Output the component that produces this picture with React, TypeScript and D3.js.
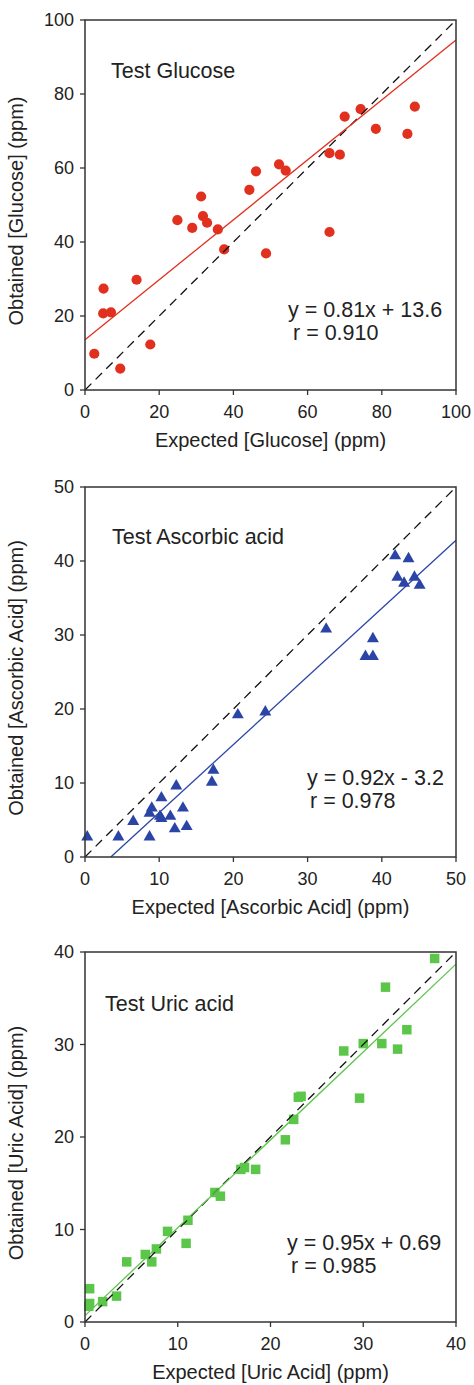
import React from "react";
import * as d3 from "d3";

// ---------- data ----------
const glucoseX = [70.0, 74.3, 88.9, 78.4, 86.9, 65.9, 68.7, 52.3, 54.1, 46.1, 44.3, 31.3, 24.9, 31.8, 32.9, 28.9, 35.8, 65.9, 37.5, 48.8, 13.9, 5.0, 4.9, 7.0, 17.6, 2.5, 9.5];
const glucoseY = [73.9, 75.9, 76.6, 70.6, 69.2, 64.0, 63.6, 61.0, 59.3, 59.1, 54.1, 52.3, 45.9, 47.0, 45.2, 43.8, 43.4, 42.7, 38.0, 36.9, 29.8, 27.4, 20.7, 21.0, 12.3, 9.8, 5.8];

const ascorbicX = [41.8, 43.6, 42.1, 43.0, 44.4, 45.1, 32.5, 38.8, 37.8, 38.8, 20.6, 24.3, 17.3, 17.1, 12.3, 10.3, 9.0, 13.2, 8.7, 10.1, 10.3, 11.5, 6.5, 12.1, 13.7, 0.3, 4.5, 8.7];
const ascorbicY = [40.7, 40.3, 37.8, 37.0, 37.8, 36.7, 30.8, 29.5, 27.1, 27.1, 19.2, 19.6, 11.7, 10.1, 9.6, 8.0, 6.6, 6.6, 5.9, 5.5, 5.2, 5.5, 4.8, 3.8, 4.1, 2.7, 2.7, 2.7];

const uricX = [37.7, 32.4, 34.7, 32.0, 30.0, 27.9, 33.7, 23.0, 23.3, 29.6, 22.5, 21.6, 16.8, 17.2, 18.4, 14.0, 14.6, 11.1, 8.9, 10.9, 7.7, 6.5, 7.2, 4.5, 0.5, 0.5, 0.4, 1.9, 3.4];
const uricY = [39.3, 36.2, 31.6, 30.1, 30.1, 29.3, 29.5, 24.3, 24.4, 24.2, 21.9, 19.7, 16.5, 16.7, 16.5, 14.0, 13.6, 11.0, 9.8, 8.5, 7.9, 7.3, 6.5, 6.5, 3.6, 2.0, 1.7, 2.2, 2.8];

const glucoseTicks = [0, 20, 40, 60, 80, 100];
const ascorbicTicks = [0, 10, 20, 30, 40, 50];
const uricTicks = [0, 10, 20, 30, 40];

const glucoseFit = { slope: 0.81, intercept: 13.6 };
const ascorbicFit = { slope: 0.92, intercept: -3.2 };
const uricFit = { slope: 0.95, intercept: 0.69 };

const panels = [
  {
    title: "Test Glucose",
    xLabel: "Expected [Glucose] (ppm)",
    yLabel: "Obtained [Glucose] (ppm)",
    eq: "y = 0.81x + 13.6",
    r: "r = 0.910",
    xs: glucoseX, ys: glucoseY, ticks: glucoseTicks, max: 100, fit: glucoseFit,
    color: "#e2301f", marker: "circle",
    top: 20, titlePos: [111, 78], eqPos: [288, 317], rPos: [293, 340],
  },
  {
    title: "Test Ascorbic acid",
    xLabel: "Expected [Ascorbic Acid] (ppm)",
    yLabel: "Obtained [Ascorbic Acid] (ppm)",
    eq: "y = 0.92x - 3.2",
    r: "r = 0.978",
    xs: ascorbicX, ys: ascorbicY, ticks: ascorbicTicks, max: 50, fit: ascorbicFit,
    color: "#2b45a6", marker: "triangle",
    top: 487, titlePos: [112, 544], eqPos: [307, 785], rPos: [310, 808],
  },
  {
    title: "Test Uric acid",
    xLabel: "Expected [Uric Acid] (ppm)",
    yLabel: "Obtained [Uric Acid] (ppm)",
    eq: "y = 0.95x + 0.69",
    r: "r = 0.985",
    xs: uricX, ys: uricY, ticks: uricTicks, max: 40, fit: uricFit,
    color: "#5cc64b", marker: "square",
    top: 952, titlePos: [105, 1011], eqPos: [287, 1250], rPos: [291, 1273],
  },
];

const FONT = "'Liberation Sans', Arial, Helvetica, sans-serif";
const LEFT = 85;
const RIGHT = 456;
const H = 370;

function Panel({ p }: { p: any }) {
  const x = d3.scaleLinear().domain([0, p.max]).range([LEFT, RIGHT]);
  const y = d3.scaleLinear().domain([0, p.max]).range([p.top + H, p.top]);
  const bottom = p.top + H;
  const line = d3.line<[number, number]>().x((d) => x(d[0])).y((d) => y(d[1]));
  const x0 = Math.max(0, -p.fit.intercept / p.fit.slope);
  const fitPts: [number, number][] = [
    [x0, p.fit.slope * x0 + p.fit.intercept],
    [p.max, p.fit.slope * p.max + p.fit.intercept],
  ];
  const idPts: [number, number][] = [[0, 0], [p.max, p.max]];
  const sym =
    p.marker === "circle"
      ? d3.symbol().type(d3.symbolCircle).size(82)()
      : p.marker === "triangle"
      ? d3.symbol().type(d3.symbolTriangle).size(62)()
      : d3.symbol().type(d3.symbolSquare).size(90)();
  const axisColor = "#333";
  return (
    <g>
      {/* points */}
      {p.xs.map((xv: number, i: number) => (
        <path key={i} d={sym as string} transform={`translate(${x(xv)},${y(p.ys[i])})`} fill={p.color} />
      ))}
      {/* identity dashed line */}
      <path d={line(idPts) as string} stroke="#111" strokeWidth={1.3} strokeDasharray="9,6" fill="none" />
      {/* fit line */}
      <path d={line(fitPts) as string} stroke={p.color} strokeWidth={1.3} fill="none" />
      {/* frame */}
      <rect x={LEFT} y={p.top} width={RIGHT - LEFT} height={H} fill="none" stroke={axisColor} strokeWidth={1.5} />
      {/* ticks */}
      {p.ticks.map((t: number) => (
        <g key={"x" + t}>
          <line x1={x(t)} x2={x(t)} y1={bottom} y2={bottom + 5} stroke={axisColor} strokeWidth={1.3} />
          <text x={x(t)} y={bottom + 28} textAnchor="middle" fontSize={18} fill="#222" fontFamily={FONT}>{t}</text>
        </g>
      ))}
      {p.ticks.map((t: number) => (
        <g key={"y" + t}>
          <line x1={LEFT - 5} x2={LEFT} y1={y(t)} y2={y(t)} stroke={axisColor} strokeWidth={1.3} />
          <text x={LEFT - 11} y={y(t)} dy="0.35em" textAnchor="end" fontSize={18} fill="#222" fontFamily={FONT}>{t}</text>
        </g>
      ))}
      {/* axis labels */}
      <text x={(LEFT + RIGHT) / 2} y={bottom + 57} textAnchor="middle" fontSize={20} fill="#222" fontFamily={FONT}>{p.xLabel}</text>
      <text transform={`translate(23,${p.top + H / 2 + 6}) rotate(-90)`} textAnchor="middle" fontSize={20} fill="#222" fontFamily={FONT}>{p.yLabel}</text>
      {/* annotations */}
      <text x={p.titlePos[0]} y={p.titlePos[1]} fontSize={21.5} fill="#222" fontFamily={FONT}>{p.title}</text>
      <text x={p.eqPos[0]} y={p.eqPos[1]} fontSize={21.5} fill="#222" fontFamily={FONT}>{p.eq}</text>
      <text x={p.rPos[0]} y={p.rPos[1]} fontSize={21.5} fill="#222" fontFamily={FONT}>{p.r}</text>
    </g>
  );
}

export default function App() {
  return (
    <svg width={474} height={1385} style={{ position: "absolute", left: 0, top: 0, background: "#fff" }}>
      <rect x={0} y={0} width={474} height={1385} fill="#fff" />
      {panels.map((p, i) => (
        <Panel key={i} p={p} />
      ))}
    </svg>
  );
}
